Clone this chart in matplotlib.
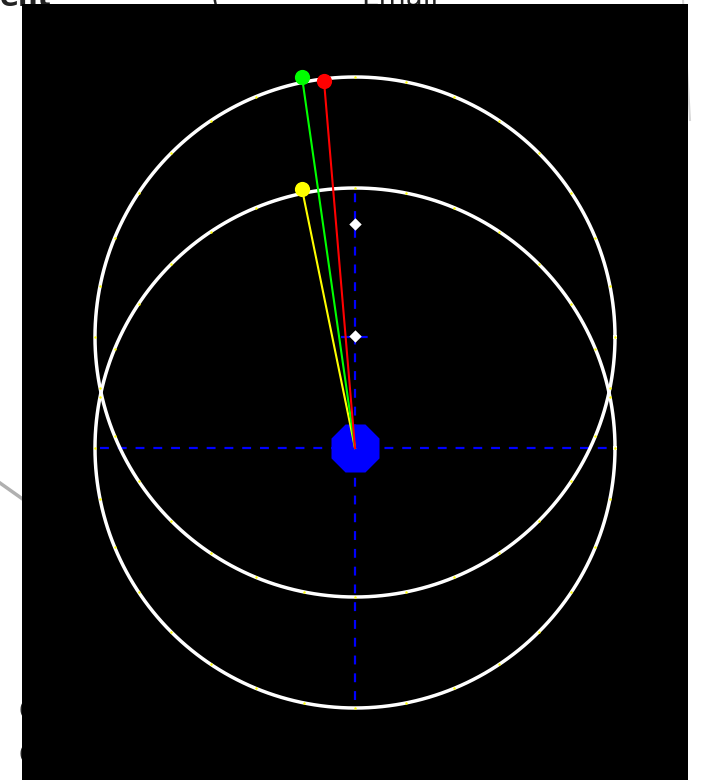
import numpy as np
import matplotlib.pyplot as plt
from matplotlib.lines import Line2D

# scene in screen units, origin at the blue body, y up
origin = (0, 0)
radius = 260
circle_centers = [(0, 111), (0, 0)]
n_vertices = 32
bobs = {'green': (-53, 371), 'red': (-31, 367), 'yellow': (-53, 259)}
markers_y = [224, 112]
axis_x = (-255, 255)
axis_y = (-252, 258)

# canvas placement of the black panel (pixels)
W, H = 701, 780
px0, py0 = 355, 448

fig = plt.figure(figsize=(W / 100, H / 100), dpi=100)
fig.patch.set_facecolor('white')

# bits of the surrounding window peeking in at the edges (behind the panel)
edge_kw = dict(fontsize=20, color='#222222', ha='left', zorder=-1)
fig.text(0.0, 1 - 6 / H, 'ent', va='baseline', fontweight='bold', **edge_kw)
fig.text(0.30, 1 - 6 / H, '(', va='baseline', **edge_kw)
fig.text(0.515, 1 - 6 / H, 'Email', va='baseline', **edge_kw)
fig.text(19 / W, 1 - 712 / H, 'C', va='center', **edge_kw)
fig.text(19 / W, 1 - 756 / H, 'C', va='center', **edge_kw)
fig.add_artist(Line2D([0, 24 / W], [1 - 483 / H, 1 - 500 / H], color='#b0b0b0', lw=2.5, zorder=-1))
fig.add_artist(Line2D([683 / W, 690 / W], [1.0, 1 - 120 / H], color='#d8d8d8', lw=1.5, zorder=-1))

ax = fig.add_axes([22 / W, 0, (688 - 22) / W, (H - 4) / H])
ax.set_facecolor('black')
ax.set_xlim(22 - px0, 688 - px0)
ax.set_ylim(py0 - H, py0 - 4)
ax.set_xticks([])
ax.set_yticks([])
for s in ax.spines.values():
    s.set_visible(False)

# dashed blue reference axes
ax.plot(axis_x, [0, 0], color='#0000ff', lw=1.6, ls=(0, (4, 4)), zorder=1)
ax.plot([0, 0], axis_y, color='#0000ff', lw=1.6, ls=(0, (4, 4)), zorder=1)
ax.plot([-14, 17], [111, 111], color='#0000ff', lw=1.6, ls=(0, (4, 4)), zorder=1)

# the two circles, drawn as polygons with yellow vertices
t = np.linspace(0, 2 * np.pi, 241)
tv = np.arange(n_vertices) * 2 * np.pi / n_vertices
for cx, cy in circle_centers:
    ax.plot(cx + radius * np.cos(t), cy + radius * np.sin(t), color='white', lw=2.5, zorder=2)
    ax.scatter(cx + radius * np.cos(tv), cy + radius * np.sin(tv), s=3, color='yellow', zorder=3, linewidths=0)

# white marks on the vertical axis
ax.scatter([0] * len(markers_y), markers_y, marker='D', s=40, color='white', zorder=4, linewidths=0)

# rods from the body to each bob
for name in ['yellow', 'green', 'red']:
    bx, by = bobs[name]
    col = {'green': '#00ff00', 'red': '#ff0000', 'yellow': '#ffff00'}[name]
    ax.plot([origin[0], bx], [origin[1], by], color=col, lw=1.5, zorder=5)
    ax.scatter([bx], [by], s=120, color=col, zorder=6, linewidths=0, marker='o')

ax.scatter([origin[0]], [origin[1]], s=1400, marker='8', color='#0000ff', zorder=4, linewidths=0)

fig.savefig('out.png', dpi=100, facecolor=fig.get_facecolor())
